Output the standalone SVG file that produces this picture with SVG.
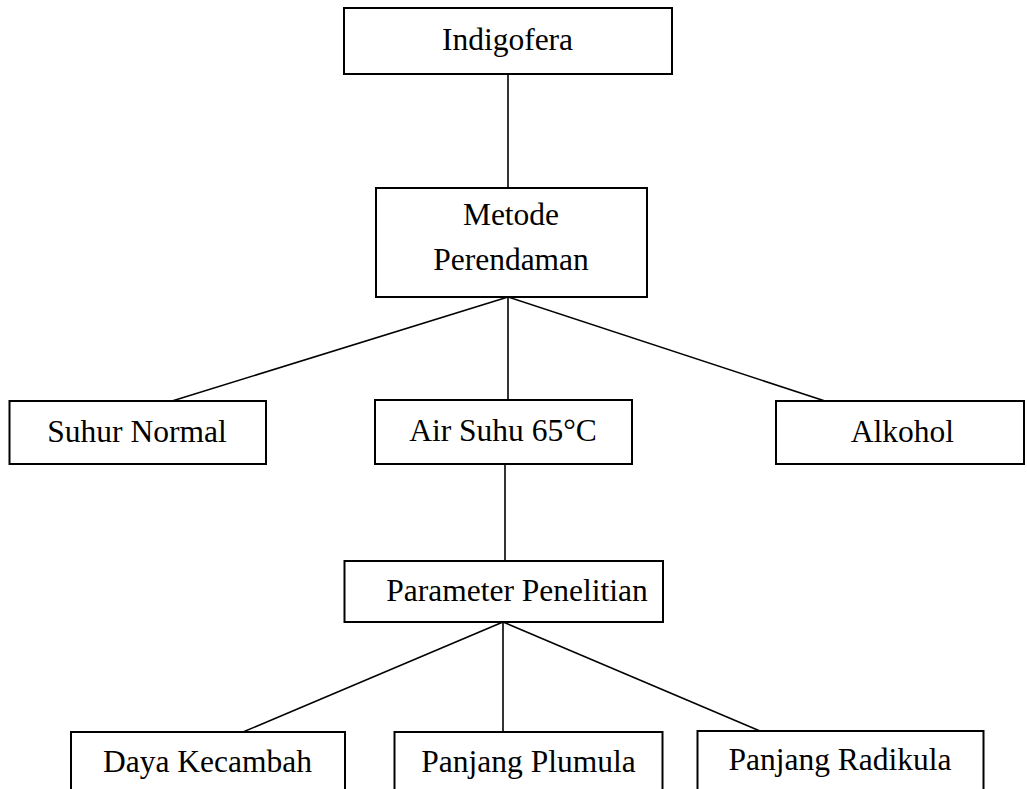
<svg xmlns="http://www.w3.org/2000/svg" width="1027" height="789" viewBox="0 0 1027 789">
<style>
.box{fill:#fff;stroke:#000;stroke-width:2}
.lbl{font-family:"Liberation Serif","Times New Roman",serif;font-size:31.5px;fill:#000;text-anchor:middle}
.con line{stroke:#000;stroke-width:1.6}
</style>
<rect width="1027" height="789" fill="#fff"/>
<g class="con" id="connectors">
<line x1="508" y1="74" x2="508" y2="188"/>
<line x1="508" y1="297" x2="172" y2="401"/>
<line x1="508" y1="297" x2="508" y2="400"/>
<line x1="508" y1="297" x2="825" y2="401"/>
<line x1="505" y1="464" x2="505" y2="561"/>
<line x1="503" y1="622" x2="243" y2="732"/>
<line x1="503" y1="622" x2="503" y2="732"/>
<line x1="503" y1="622" x2="760" y2="731"/>
</g>
<g id="indigofera"><rect class="box" x="344" y="8" width="328" height="66"/><text class="lbl" x="507.5" y="50">Indigofera</text></g>
<g id="metode"><rect class="box" x="376" y="188" width="271" height="109"/><text class="lbl" x="511" y="225">Metode</text><text class="lbl" x="511" y="270">Perendaman</text></g>
<g id="suhur-normal"><rect class="box" x="9.5" y="401" width="256.5" height="63"/><text class="lbl" x="137" y="442">Suhur Normal</text></g>
<g id="air-suhu"><rect class="box" x="375" y="400" width="257" height="64"/><text class="lbl" x="503" y="441">Air Suhu 65°C</text></g>
<g id="alkohol"><rect class="box" x="776" y="401" width="248" height="63"/><text class="lbl" x="902.5" y="442">Alkohol</text></g>
<g id="parameter"><rect class="box" x="344.5" y="561" width="318.5" height="61"/><text class="lbl" x="517" y="601">Parameter Penelitian</text></g>
<g id="daya-kecambah"><rect class="box" x="71" y="732" width="274" height="70"/><text class="lbl" x="207.5" y="772">Daya Kecambah</text></g>
<g id="panjang-plumula"><rect class="box" x="394.5" y="732" width="268" height="70"/><text class="lbl" x="528.5" y="772">Panjang Plumula</text></g>
<g id="panjang-radikula"><rect class="box" x="697.5" y="731" width="286" height="70"/><text class="lbl" x="840" y="770">Panjang Radikula</text></g>
</svg>
